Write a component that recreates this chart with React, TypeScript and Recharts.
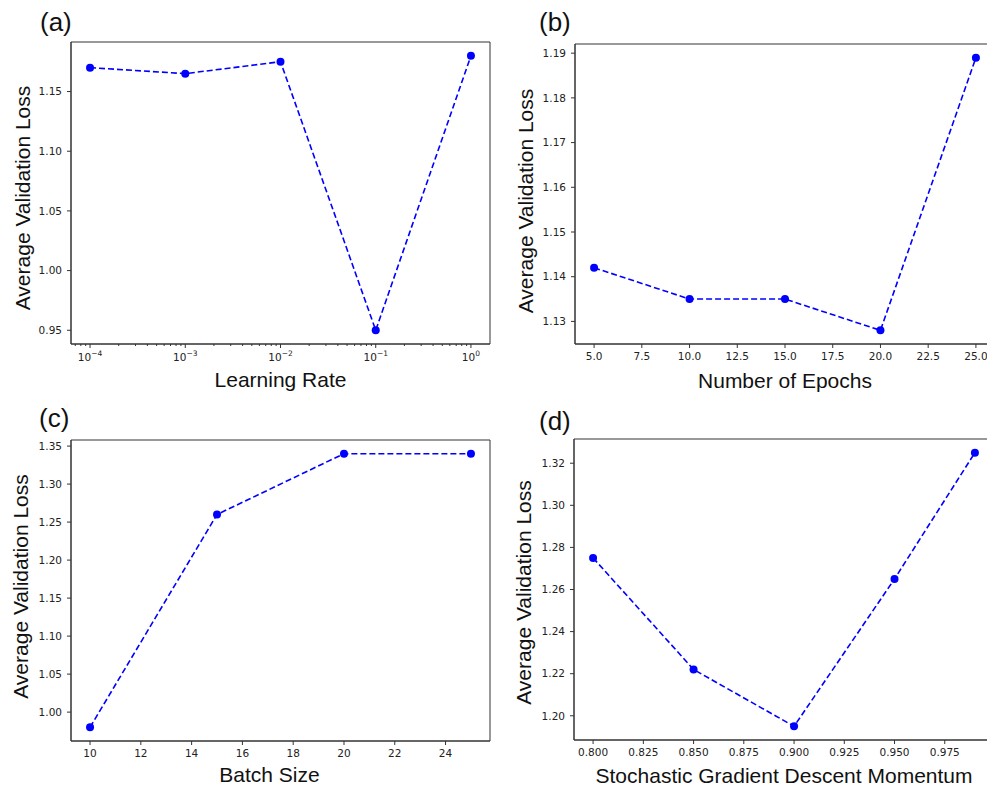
import React from "react";
import { LineChart, Line, XAxis, YAxis, ReferenceArea } from "recharts";

// values
const learningRates = [1e-4, 1e-3, 1e-2, 1e-1, 1];
const lossByLearningRate = [1.17, 1.165, 1.175, 0.95, 1.18];

const epochs = [5, 10, 15, 20, 25];
const lossByEpochs = [1.142, 1.135, 1.135, 1.128, 1.189];

const batchSizes = [10, 15, 20, 25];
const lossByBatchSize = [0.98, 1.26, 1.34, 1.34];

const momentums = [0.8, 0.85, 0.9, 0.95, 0.99];
const lossByMomentum = [1.275, 1.222, 1.195, 1.265, 1.325];

// ticks
const lrMajorTicks = [1e-4, 1e-3, 1e-2, 1e-1, 1];
const lrExponents = ["−4", "−3", "−2", "−1", "0"];
const lrMinorTicks = [
  7e-5, 8e-5, 9e-5,
  2e-4, 3e-4, 4e-4, 5e-4, 6e-4, 7e-4, 8e-4, 9e-4,
  2e-3, 3e-3, 4e-3, 5e-3, 6e-3, 7e-3, 8e-3, 9e-3,
  2e-2, 3e-2, 4e-2, 5e-2, 6e-2, 7e-2, 8e-2, 9e-2,
  2e-1, 3e-1, 4e-1, 5e-1, 6e-1, 7e-1, 8e-1, 9e-1,
];
const lossTicksA = [0.95, 1.0, 1.05, 1.1, 1.15];
const epochTicks = [5, 7.5, 10, 12.5, 15, 17.5, 20, 22.5, 25];
const lossTicksB = [1.13, 1.14, 1.15, 1.16, 1.17, 1.18, 1.19];
const batchTicks = [10, 12, 14, 16, 18, 20, 22, 24];
const lossTicksC = [1.0, 1.05, 1.1, 1.15, 1.2, 1.25, 1.3, 1.35];
const momentumTicks = [0.8, 0.825, 0.85, 0.875, 0.9, 0.925, 0.95, 0.975];
const lossTicksD = [1.2, 1.22, 1.24, 1.26, 1.28, 1.3, 1.32];

const BLUE = "#0000ff";
const SPINE = "#333333";
const TICK_FONT = "'DejaVu Sans', sans-serif";
const TITLE_FONT = "'Liberation Sans', Arial, sans-serif";
const TICK_SIZE = 4;
const TICK_MARGIN = 5;

const tickStyle = { fontSize: 10.5, fill: "#222", fontFamily: TICK_FONT };
const titleStyle: React.CSSProperties = { fontSize: 21, fill: "#111", fontFamily: TITLE_FONT };

const yTitle = (dx: number, dy: number) => (props: any) => {
  const vb = props.viewBox;
  const x = vb.x + dx;
  const y = vb.y + vb.height / 2 + dy;
  return (
    <text x={x} y={y} dy="0.355em" textAnchor="middle" transform={`rotate(-90 ${x} ${y})`} style={titleStyle}>
      Average Validation Loss
    </text>
  );
};

const xTitle = (text: string, dx: number, baseline: number) => (props: any) => {
  const vb = props.viewBox;
  return (
    <text x={vb.x + vb.width / 2 + dx} y={vb.y + baseline} textAnchor="middle" style={titleStyle}>
      {text}
    </text>
  );
};

// log axis tick: majors get 10^n label, minors just a short line
const makeLogTick = (axisY: number) => (props: any) => {
  const { x, payload } = props;
  const v = payload.value;
  const idx = lrMajorTicks.findIndex((t) => Math.abs(v - t) / t < 1e-6);
  const major = idx >= 0;
  return (
    <g>
      <line x1={x} x2={x} y1={axisY} y2={axisY + (major ? TICK_SIZE : 2)} stroke={SPINE} />
      {major && (
        <text x={x} y={axisY + TICK_SIZE + TICK_MARGIN} dy="0.73em" textAnchor="middle" style={tickStyle}>
          10
          <tspan dy={-4.5} fontSize={7.5}>
            {lrExponents[idx]}
          </tspan>
        </text>
      )}
    </g>
  );
};

interface PanelProps {
  letter: string;
  left: number;
  top: number;
  width: number;
  height: number;
  marginTop: number;
  marginRight: number;
  yAxisWidth: number;
  xAxisHeight: number;
  xs: number[];
  ys: number[];
  xDomain: [number, number];
  yDomain: [number, number];
  xTicks: number[];
  yTicks: number[];
  xDigits: number;
  yDigits: number;
  xLabel: string;
  xLabelDx: number;
  xLabelBaseline: number;
  yLabelX: number;
  yLabelDy: number;
  letterX: number;
  letterY: number;
  log?: boolean;
}

function Panel(p: PanelProps) {
  const data = p.xs.map((x, i) => ({ x, loss: p.ys[i] }));
  const axisY = p.height - p.xAxisHeight;
  const xTickList = p.log ? [...lrMajorTicks, ...lrMinorTicks].sort((a, b) => a - b) : p.xTicks;
  return (
    <div style={{ position: "absolute", left: p.left, top: p.top, width: p.width, height: p.height }}>
      <LineChart
        width={p.width}
        height={p.height}
        data={data}
        margin={{ top: p.marginTop, right: p.marginRight, bottom: 0, left: 0 }}
      >
        <XAxis
          xAxisId="x"
          dataKey="x"
          type="number"
          scale={p.log ? "log" : "linear"}
          domain={p.xDomain}
          allowDataOverflow
          ticks={xTickList}
          interval={0}
          height={p.xAxisHeight}
          axisLine={{ stroke: SPINE }}
          tickLine={p.log ? false : { stroke: SPINE }}
          tickSize={TICK_SIZE}
          tickMargin={TICK_MARGIN}
          tick={p.log ? makeLogTick(axisY) : tickStyle}
          tickFormatter={(v: number) => v.toFixed(p.xDigits)}
          label={xTitle(p.xLabel, p.xLabelDx, p.xLabelBaseline)}
        />
        <YAxis
          yAxisId="y"
          type="number"
          domain={p.yDomain}
          allowDataOverflow
          ticks={p.yTicks}
          interval={0}
          width={p.yAxisWidth}
          axisLine={{ stroke: SPINE }}
          tickLine={{ stroke: SPINE }}
          tickSize={TICK_SIZE}
          tickMargin={TICK_MARGIN}
          tick={tickStyle}
          tickFormatter={(v: number) => v.toFixed(p.yDigits)}
          label={yTitle(p.yLabelX, p.yLabelDy)}
        />
        {/* frame around the plot area (top and right spines) */}
        <ReferenceArea
          xAxisId="x"
          yAxisId="y"
          x1={p.xDomain[0]}
          x2={p.xDomain[1]}
          y1={p.yDomain[0]}
          y2={p.yDomain[1]}
          fill="none"
          fillOpacity={0}
          stroke={SPINE}
          strokeWidth={1}
          ifOverflow="visible"
        />
        <Line
          xAxisId="x"
          yAxisId="y"
          dataKey="loss"
          stroke={BLUE}
          strokeWidth={1.6}
          strokeDasharray="6 3"
          dot={{ r: 4, fill: BLUE, stroke: "none" }}
          activeDot={false}
          isAnimationActive={false}
        />
      </LineChart>
      <svg
        width={p.width}
        height={50}
        style={{ position: "absolute", left: 0, top: 0, pointerEvents: "none" }}
      >
        <text x={p.letterX} y={p.letterY} style={{ fontSize: 26, fill: "#111", fontFamily: TITLE_FONT }}>
          {p.letter}
        </text>
      </svg>
    </div>
  );
}

export default function App() {
  return (
    <div
      style={{
        position: "fixed",
        left: 0,
        top: 0,
        width: 987,
        height: 791,
        overflow: "hidden",
        background: "#fff",
      }}
    >
      <Panel
        letter="(a)"
        left={0}
        top={0}
        width={500}
        height={400}
        marginTop={42}
        marginRight={10}
        yAxisWidth={71}
        xAxisHeight={56}
        xs={learningRates}
        ys={lossByLearningRate}
        xDomain={[6.31e-5, 1.585]}
        yDomain={[0.9385, 1.1915]}
        xTicks={lrMajorTicks}
        yTicks={lossTicksA}
        xDigits={0}
        yDigits={2}
        xLabel="Learning Rate"
        xLabelDx={0}
        xLabelBaseline={43}
        yLabelX={23}
        yLabelDy={5}
        letterX={40}
        letterY={31}
        log
      />
      <Panel
        letter="(b)"
        left={490}
        top={0}
        width={510}
        height={400}
        marginTop={44}
        marginRight={5}
        yAxisWidth={85}
        xAxisHeight={56}
        xs={epochs}
        ys={lossByEpochs}
        xDomain={[4, 26]}
        yDomain={[1.12495, 1.19205]}
        xTicks={epochTicks}
        yTicks={lossTicksB}
        xDigits={1}
        yDigits={2}
        xLabel="Number of Epochs"
        xLabelDx={0}
        xLabelBaseline={44}
        yLabelX={36}
        yLabelDy={7}
        letterX={49}
        letterY={31}
      />
      <Panel
        letter="(c)"
        left={0}
        top={400}
        width={500}
        height={391}
        marginTop={40}
        marginRight={10}
        yAxisWidth={71}
        xAxisHeight={50}
        xs={batchSizes}
        ys={lossByBatchSize}
        xDomain={[9.25, 25.75]}
        yDomain={[0.962, 1.358]}
        xTicks={batchTicks}
        yTicks={lossTicksC}
        xDigits={0}
        yDigits={2}
        xLabel="Batch Size"
        xLabelDx={-11}
        xLabelBaseline={41}
        yLabelX={21}
        yLabelDy={-4}
        letterX={39}
        letterY={27}
      />
      <Panel
        letter="(d)"
        left={490}
        top={400}
        width={510}
        height={391}
        marginTop={39}
        marginRight={6}
        yAxisWidth={84}
        xAxisHeight={51}
        xs={momentums}
        ys={lossByMomentum}
        xDomain={[0.7905, 0.9995]}
        yDomain={[1.1885, 1.3315]}
        xTicks={momentumTicks}
        yTicks={lossTicksD}
        xDigits={3}
        yDigits={2}
        xLabel="Stochastic Gradient Descent Momentum"
        xLabelDx={0}
        xLabelBaseline={43}
        yLabelX={34}
        yLabelDy={3}
        letterX={49}
        letterY={30}
      />
    </div>
  );
}
